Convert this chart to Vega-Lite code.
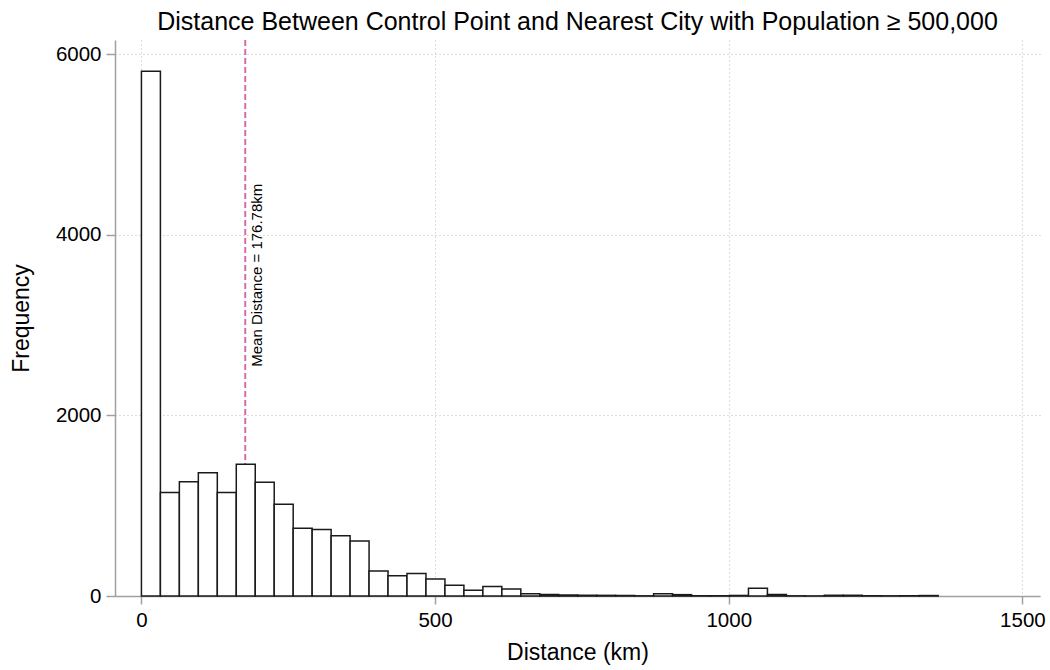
{
  "$schema": "https://vega.github.io/schema/vega-lite/v6.json",
  "width": 925,
  "height": 556,
  "autosize": {"type": "none"},
  "padding": {"left": 115, "top": 40, "right": 10, "bottom": 74},
  "background": "white",
  "config": {"font": "Liberation Sans", "view": {"stroke": null}},
  "title": {
    "text": "Distance Between Control Point and Nearest City with Population ≥ 500,000",
    "fontSize": 25, "fontWeight": "normal", "color": "black",
    "anchor": "middle", "offset": 4
  },
  "data": {
    "values": [
      {"bin_start": 0, "bin_end": 32.3, "count": 5815},
      {"bin_start": 32.3, "bin_end": 64.6, "count": 1146},
      {"bin_start": 64.6, "bin_end": 96.9, "count": 1265},
      {"bin_start": 96.9, "bin_end": 129.2, "count": 1365},
      {"bin_start": 129.2, "bin_end": 161.5, "count": 1148},
      {"bin_start": 161.5, "bin_end": 193.8, "count": 1460},
      {"bin_start": 193.8, "bin_end": 226.1, "count": 1260},
      {"bin_start": 226.1, "bin_end": 258.4, "count": 1017},
      {"bin_start": 258.4, "bin_end": 290.7, "count": 751},
      {"bin_start": 290.7, "bin_end": 323.0, "count": 736},
      {"bin_start": 323.0, "bin_end": 355.3, "count": 668},
      {"bin_start": 355.3, "bin_end": 387.6, "count": 610},
      {"bin_start": 387.6, "bin_end": 419.9, "count": 277},
      {"bin_start": 419.9, "bin_end": 452.2, "count": 223},
      {"bin_start": 452.2, "bin_end": 484.5, "count": 249},
      {"bin_start": 484.5, "bin_end": 516.8, "count": 189},
      {"bin_start": 516.8, "bin_end": 549.1, "count": 118},
      {"bin_start": 549.1, "bin_end": 581.4, "count": 63},
      {"bin_start": 581.4, "bin_end": 613.7, "count": 104},
      {"bin_start": 613.7, "bin_end": 646.0, "count": 77},
      {"bin_start": 646.0, "bin_end": 678.3, "count": 26},
      {"bin_start": 678.3, "bin_end": 710.6, "count": 18},
      {"bin_start": 710.6, "bin_end": 742.9, "count": 11},
      {"bin_start": 742.9, "bin_end": 775.2, "count": 8},
      {"bin_start": 775.2, "bin_end": 807.5, "count": 7},
      {"bin_start": 807.5, "bin_end": 839.8, "count": 5},
      {"bin_start": 839.8, "bin_end": 872.1, "count": 2},
      {"bin_start": 872.1, "bin_end": 904.4, "count": 26},
      {"bin_start": 904.4, "bin_end": 936.7, "count": 15},
      {"bin_start": 936.7, "bin_end": 969.0, "count": 3},
      {"bin_start": 969.0, "bin_end": 1001.3, "count": 3},
      {"bin_start": 1001.3, "bin_end": 1033.6, "count": 6},
      {"bin_start": 1033.6, "bin_end": 1065.9, "count": 85},
      {"bin_start": 1065.9, "bin_end": 1098.2, "count": 18},
      {"bin_start": 1098.2, "bin_end": 1130.5, "count": 2},
      {"bin_start": 1130.5, "bin_end": 1162.8, "count": 1},
      {"bin_start": 1162.8, "bin_end": 1195.1, "count": 8},
      {"bin_start": 1195.1, "bin_end": 1227.4, "count": 8},
      {"bin_start": 1227.4, "bin_end": 1259.7, "count": 3},
      {"bin_start": 1259.7, "bin_end": 1292.0, "count": 2},
      {"bin_start": 1292.0, "bin_end": 1324.3, "count": 3},
      {"bin_start": 1324.3, "bin_end": 1356.6, "count": 5}
    ]
  },
  "layer": [
    {
      "data": {"values": [{"mean": 176.78}]},
      "mark": {"type": "rule", "color": "#d96ba6", "strokeWidth": 2, "strokeDash": [6, 3]},
      "encoding": {
        "x": {"field": "mean", "type": "quantitative", "scale": {"domain": [-45, 1530], "nice": false, "zero": false},
          "axis": {
            "values": [0, 500, 1000, 1500], "format": "d",
            "title": "Distance (km)", "titleFontSize": 23, "titleFontWeight": "normal", "titleColor": "black", "titlePadding": 11,
            "labelFontSize": 20.5, "labelColor": "black", "labelPadding": 6, "labelFlush": false,
            "tickSize": 8, "tickColor": "#a0a0a0", "tickWidth": 1.5,
            "domainColor": "#a0a0a0", "domainWidth": 1.5,
            "grid": true, "gridColor": "#b8b8b8", "gridDash": [1, 3], "gridWidth": 1
          }
        }
      }
    },
    {
      "mark": {"type": "bar", "fill": "white", "stroke": "#1a1a1a", "strokeWidth": 1.5},
      "encoding": {
        "x": {
          "field": "bin_start", "type": "quantitative",
          "scale": {"domain": [-45, 1530], "nice": false, "zero": false},
          "axis": {
            "values": [0, 500, 1000, 1500], "format": "d",
            "title": "Distance (km)", "titleFontSize": 23, "titleFontWeight": "normal", "titleColor": "black", "titlePadding": 11,
            "labelFontSize": 20.5, "labelColor": "black", "labelPadding": 6, "labelFlush": false,
            "tickSize": 8, "tickColor": "#a0a0a0", "tickWidth": 1.5,
            "domainColor": "#a0a0a0", "domainWidth": 1.5,
            "grid": true, "gridColor": "#b8b8b8", "gridDash": [1, 3], "gridWidth": 1
          }
        },
        "x2": {"field": "bin_end"},
        "y": {
          "field": "count", "type": "quantitative",
          "scale": {"domain": [0, 6160], "nice": false},
          "axis": {
            "values": [0, 2000, 4000, 6000], "format": "d",
            "title": "Frequency", "titleFontSize": 23, "titleFontWeight": "normal", "titleColor": "black", "titlePadding": 22,
            "labelFontSize": 20.5, "labelColor": "black", "labelPadding": 5,
            "tickSize": 9, "tickColor": "#a0a0a0", "tickWidth": 1.5,
            "domainColor": "#a0a0a0", "domainWidth": 1.5,
            "grid": true, "gridColor": "#b8b8b8", "gridDash": [1, 3], "gridWidth": 1
          }
        },
        "y2": {"datum": 0}
      }
    },
    {
      "data": {"values": [{"mean": 176.78, "ypos": 2540, "label": "Mean Distance = 176.78km"}]},
      "mark": {"type": "text", "angle": 270, "align": "left", "baseline": "top", "dy": 5, "fontSize": 15, "color": "black"},
      "encoding": {
        "x": {"field": "mean", "type": "quantitative", "scale": {"domain": [-45, 1530], "nice": false, "zero": false},
          "axis": {
            "values": [0, 500, 1000, 1500], "format": "d",
            "title": "Distance (km)", "titleFontSize": 23, "titleFontWeight": "normal", "titleColor": "black", "titlePadding": 11,
            "labelFontSize": 20.5, "labelColor": "black", "labelPadding": 6, "labelFlush": false,
            "tickSize": 8, "tickColor": "#a0a0a0", "tickWidth": 1.5,
            "domainColor": "#a0a0a0", "domainWidth": 1.5,
            "grid": true, "gridColor": "#b8b8b8", "gridDash": [1, 3], "gridWidth": 1
          }
        },
        "y": {"field": "ypos", "type": "quantitative", "scale": {"domain": [0, 6160], "nice": false},
          "axis": {
            "values": [0, 2000, 4000, 6000], "format": "d",
            "title": "Frequency", "titleFontSize": 23, "titleFontWeight": "normal", "titleColor": "black", "titlePadding": 22,
            "labelFontSize": 20.5, "labelColor": "black", "labelPadding": 5,
            "tickSize": 9, "tickColor": "#a0a0a0", "tickWidth": 1.5,
            "domainColor": "#a0a0a0", "domainWidth": 1.5,
            "grid": true, "gridColor": "#b8b8b8", "gridDash": [1, 3], "gridWidth": 1
          }
        },
        "text": {"field": "label"}
      }
    }
  ]
}
